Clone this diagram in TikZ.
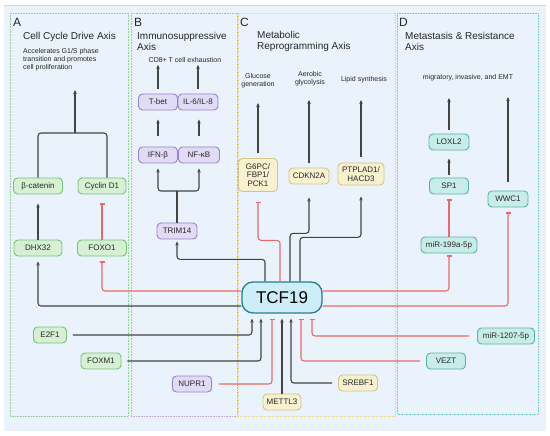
\documentclass[tikz,border=0pt]{standalone}
\usepackage{fontspec}
\setmainfont{Liberation Sans}
\usepackage{tikz}
\usetikzlibrary{arrows.meta}
\definecolor{bgblue}{RGB}{234,243,252}
\definecolor{bgline}{RGB}{198,222,243}
\definecolor{grnline}{RGB}{118,194,118}
\definecolor{grnfill}{RGB}{214,240,212}
\definecolor{grnpanel}{RGB}{140,210,140}
\definecolor{purline}{RGB}{150,130,205}
\definecolor{purfill}{RGB}{226,219,246}
\definecolor{purpanel}{RGB}{190,170,225}
\definecolor{yelline}{RGB}{214,196,130}
\definecolor{yelfill}{RGB}{248,241,208}
\definecolor{yelpanel}{RGB}{240,215,120}
\definecolor{tealline}{RGB}{88,180,170}
\definecolor{tealfill}{RGB}{200,236,232}
\definecolor{tealpanel}{RGB}{100,200,205}
\definecolor{hubline}{RGB}{34,128,145}
\definecolor{hubfill}{RGB}{205,238,246}
\definecolor{actline}{RGB}{68,68,68}
\definecolor{inhline}{RGB}{236,104,104}

\begin{document}
\begin{tikzpicture}[x=1pt,y=-1pt,every node/.style={text=black!85},
  box/.style={draw,rounded corners=4pt,line width=0.9pt,minimum height=16pt,inner sep=1pt,align=center,font=\fontsize{8}{8.5}\selectfont},
  gbox/.style={box,draw=grnline,fill=grnfill},
  pbox/.style={box,draw=purline,fill=purfill},
  ybox/.style={box,draw=yelline,fill=yelfill},
  tbox/.style={box,draw=tealline,fill=tealfill},
  hub/.style={draw=hubline,fill=hubfill,line width=1.3pt,rounded corners=11pt,text=black,font=\fontsize{17}{17}\selectfont},
  act/.style={draw=actline,line width=1.1pt,rounded corners=3pt,-{Stealth[length=4pt,width=3.5pt]}},
  inh/.style={draw=inhline,line width=1.1pt,rounded corners=3pt,-{Bar[width=5pt]}},
  link/.style={draw=actline,line width=1.1pt,rounded corners=3pt},
  panel/.style={densely dotted,line width=0.6pt},
  tag/.style={anchor=west,inner sep=0pt,font=\fontsize{12}{12}\selectfont},
  title/.style={anchor=west,inner sep=0pt,align=left,font=\fontsize{10}{11}\selectfont},
  note/.style={inner sep=0pt,align=center,font=\fontsize{7}{8}\selectfont}]
\useasboundingbox (0,0) rectangle (550,436);
\fill[bgblue] (4,6) rectangle (546,431);
\draw[bgline,line width=1pt] (4,6) -- (546,6);
\draw[panel,draw=grnpanel] (10,13) rectangle (128,416);
\draw[panel,draw=purpanel] (131,13) rectangle (237,416);
\draw[panel,draw=yelpanel] (238,13) rectangle (395,416);
\draw[panel,draw=tealpanel] (397,13) rectangle (538,414);

\node[tag] (la) at (13,22) {A};
\node[title] (ta) at (23,37) {Cell Cycle Drive Axis};
\node[note,anchor=west,align=left] (da) at (23,60) {Accelerates G1/S phase\\transition and promotes\\cell proliferation};
\node[tag] (lb) at (134,22) {B};
\node[title] (tb) at (137,41.5) {Immunosuppressive\\Axis};
\node[note] (bout) at (185,60) {CD8+ T cell exhaustion};
\node[tag] (lc) at (240,22) {C};
\node[title] (tc) at (257,41) {Metabolic\\Reprogramming Axis};
\node[note] (gluc) at (258,81) {Glucose\\generation};
\node[note] (aer) at (310,79) {Aerobic\\glycolysis};
\node[note] (lip) at (364,80) {Lipid synthesis};
\node[tag] (ld) at (399,22) {D};
\node[title] (td) at (405,41) {Metastasis \& Resistance\\Axis};
\node[note] (mig) at (468,78) {migratory, invasive, and EMT};

\coordinate (ajoin) at (75,133);
\coordinate (aout) at (75,90);
\coordinate (bjoin) at (177,191);
\coordinate (gout) at (258,103);
\coordinate (cout) at (309,100);
\coordinate (pout) at (361,100);
\coordinate (lout) at (449,98);
\coordinate (wout) at (508,97);

\node[gbox,minimum width=49pt] (bcat) at (38,186) {β-catenin};
\node[gbox,minimum width=48pt] (cyc) at (102,186) {Cyclin D1};
\node[gbox,minimum width=48pt] (dhx) at (38,248) {DHX32};
\node[gbox,minimum width=49pt] (foxo) at (102,248) {FOXO1};
\node[gbox,minimum width=33pt] (e2f) at (50,335) {E2F1};
\node[gbox,minimum width=40pt] (foxm) at (101,361) {FOXM1};
\node[pbox,minimum width=39pt] (tbet) at (158,102) {T-bet};
\node[pbox,minimum width=40pt] (il) at (198,102) {IL-6/IL-8};
\node[pbox,minimum width=39pt] (ifn) at (158,155) {IFN-β};
\node[pbox,minimum width=41pt] (nfkb) at (199,155) {NF-κB};
\node[pbox,minimum width=40pt] (trim) at (177,231) {TRIM14};
\node[pbox,minimum width=39pt] (nupr) at (192,384) {NUPR1};
\node[ybox,minimum width=39pt,minimum height=33pt] (g6pc) at (258,175) {G6PC/\\FBP1/\\PCK1};
\node[ybox,minimum width=40pt] (cdkn) at (309,176) {CDKN2A};
\node[ybox,minimum width=46pt,minimum height=22pt] (ptp) at (361,174) {PTPLAD1/\\HACD3};
\node[ybox,minimum width=38pt] (mettl) at (282,402) {METTL3};
\node[ybox,minimum width=39pt] (srebf) at (358,383) {SREBF1};
\node[tbox,minimum width=40pt] (lox) at (449,142) {LOXL2};
\node[tbox,minimum width=39pt] (sp1) at (449,186) {SP1};
\node[tbox,minimum width=40pt] (wwc) at (508,199) {WWC1};
\node[tbox,minimum width=56pt] (mir199) at (449,245) {miR-199a-5p};
\node[tbox,minimum width=57pt] (mir1207) at (506,336) {miR-1207-5p};
\node[tbox,minimum width=39pt] (vezt) at (446,361) {VEZT};
\node[hub,minimum width=80pt,minimum height=31pt] (tcf) at (282,297.5) {TCF19};

\draw[link] (bcat.north) |- (ajoin) -| ([xshift=5pt]cyc.north);
\draw[act] (ajoin) -- (aout);
\draw[act,shorten >=9pt] (dhx.north) -- (bcat.south);
\draw[inh,shorten >=9pt] (foxo.north) -- (cyc.south);

\draw[act,shorten <=11pt,shorten >=9pt] (ifn.north) -- (tbet.south);
\draw[act,shorten <=11pt,shorten >=9pt] (nfkb.north) -- (nfkb.north |- il.south);
\draw[act,shorten <=5pt,shorten >=2pt] (tbet.north) -- (tbet.north |- bout.south);
\draw[act,shorten <=5pt,shorten >=2pt] (il.north) -- (il.north |- bout.south);
\draw[link] (trim.north) -- (bjoin);
\draw[act,shorten >=5pt] (bjoin) -| (ifn.south);
\draw[act,shorten >=5pt] (bjoin) -| (nfkb.south);

\draw[act,shorten <=5pt] (g6pc.north) -- (gout);
\draw[act,shorten <=5pt] (cdkn.north) -- (cout);
\draw[act,shorten <=6pt] (ptp.north) -- (pout);

\draw[act,shorten <=4pt] (lox.north) -- (lout);
\draw[act,shorten <=3pt,shorten >=8pt] (sp1.north) -- (lox.south);
\draw[inh,shorten >=5pt] (mir199.north) -- (sp1.south);
\draw[act,shorten <=9pt] (wwc.north) -- (wout);

\draw[act,shorten >=2pt] ([xshift=-17pt]tcf.north) -- ++(0,-22) -| (trim.south);
\draw[inh,shorten >=10pt] ([xshift=-2pt]tcf.north) -- ++(0,-41) -| (g6pc.south);
\draw[act,shorten >=13pt] ([xshift=8pt]tcf.north) -- ++(0,-48) -| (cdkn.south);
\draw[act,shorten >=11pt] ([xshift=18pt]tcf.north) -- ++(0,-44) -| (ptp.south);

\draw[inh,shorten >=5pt] ([yshift=6.5pt]tcf.west) -| (foxo.south);
\draw[act,shorten >=5pt] ([yshift=-8.5pt]tcf.west) -| (dhx.south);
\draw[inh,shorten >=2pt] ([yshift=6.5pt]tcf.east) -| (mir199.south);
\draw[inh,shorten >=5pt] ([yshift=-8.5pt]tcf.east) -| (wwc.south);

\draw[act,shorten <=6pt,shorten >=5pt] (e2f.east) -| ([xshift=-30pt]tcf.south);
\draw[act,shorten <=6pt,shorten >=5pt] (foxm.east) -| ([xshift=-21pt]tcf.south);
\draw[inh,shorten <=7pt,shorten >=5pt] (nupr.east) -| ([xshift=-10pt]tcf.south);
\draw[act,shorten >=5pt] (mettl.north) -- (tcf.south);
\draw[act,shorten <=6pt,shorten >=5pt] (srebf.west) -| ([xshift=9pt]tcf.south);
\draw[inh,shorten <=6pt,shorten >=5pt] (vezt.west) -| ([xshift=19pt]tcf.south);
\draw[inh,shorten <=8pt,shorten >=5pt] (mir1207.west) -| ([xshift=30pt]tcf.south);
\end{tikzpicture}
\end{document}
